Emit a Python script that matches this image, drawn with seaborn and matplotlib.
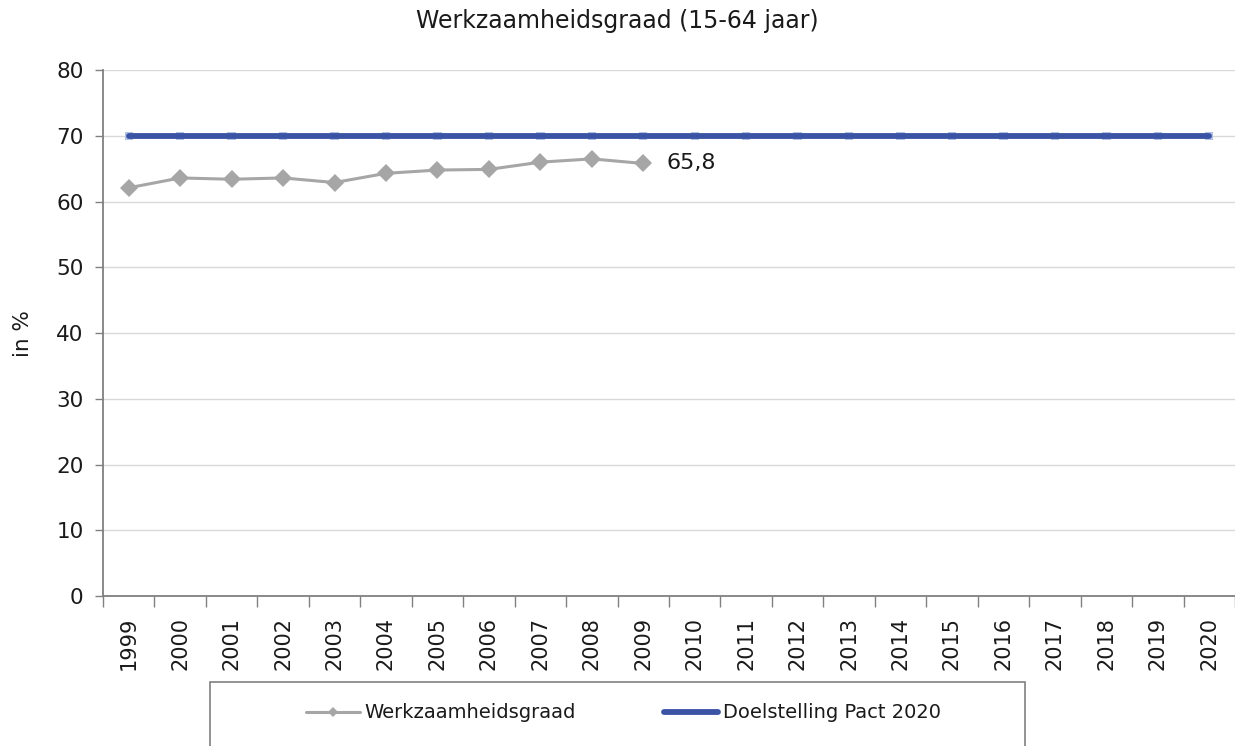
import matplotlib
matplotlib.use("Agg")
import matplotlib.pyplot as plt
from matplotlib.patches import Rectangle
from matplotlib.ticker import FixedLocator
import seaborn as sns
import pandas as pd

# Employment rate (15-64) and the Pact 2020 target
years_obs = [1999, 2000, 2001, 2002, 2003, 2004, 2005, 2006, 2007, 2008, 2009]
rate_obs = [62.1, 63.6, 63.4, 63.6, 62.9, 64.3, 64.8, 64.9, 66.0, 66.5, 65.8]
years_target = list(range(1999, 2021))
target = [70.0] * len(years_target)
title = "Werkzaamheidsgraad (15-64 jaar)"
y_label = "in %"
series_names = ["Werkzaamheidsgraad", "Doelstelling Pact 2020"]
y_ticks = [0, 10, 20, 30, 40, 50, 60, 70, 80]

gray = "#A6A6A6"
blue = "#3A53A4"
text_col = "#1a1a1a"

sns.set_theme(style="white")
plt.rcParams["font.family"] = ["DejaVu Sans"]

fig = plt.figure(figsize=(12.35, 7.46), dpi=100)
ax = fig.add_axes([0.0834, 0.201, 0.9166, 0.705])

df_obs = pd.DataFrame({"year": years_obs, "value": rate_obs})
df_tgt = pd.DataFrame({"year": years_target, "value": target})

# faint square markers sitting underneath the target line
sns.scatterplot(data=df_tgt, x="year", y="value", ax=ax, marker="s", s=36,
                color="#B3C0E6", edgecolor="none", legend=False, zorder=2)
sns.lineplot(data=df_tgt, x="year", y="value", ax=ax, color=blue, linewidth=4.2,
             solid_capstyle="round", label=series_names[1], zorder=3)
sns.lineplot(data=df_obs, x="year", y="value", ax=ax, color=gray, linewidth=2.2,
             marker="D", markersize=9.5, markerfacecolor=gray,
             markeredgewidth=0, label=series_names[0], zorder=4)

# value label on last observation
ax.annotate(f"{rate_obs[-1]:.1f}".replace(".", ","), (years_obs[-1], rate_obs[-1]),
            xytext=(17, 0), textcoords="offset points", ha="left", va="center",
            fontsize=16, color=text_col)

ax.set_xlim(years_target[0] - 0.5, years_target[-1] + 0.5)
ax.set_ylim(0, 80)
ax.set_yticks(y_ticks)
ax.set_xticks(years_target)
ax.set_xticklabels([str(y) for y in years_target], rotation=90, fontsize=15)
ax.xaxis.set_minor_locator(FixedLocator([y - 0.5 for y in years_target] + [years_target[-1] + 0.5]))
ax.tick_params(axis="x", which="major", length=0, pad=15, labelcolor=text_col)
ax.tick_params(axis="x", which="minor", length=8, width=1, color="#808080", bottom=True)
ax.tick_params(axis="y", which="major", length=6, width=1, color="#808080", labelsize=15.5,
               pad=8, left=True, labelcolor=text_col)

ax.grid(axis="y", color="#D9D9D9", linewidth=1)
ax.grid(axis="x", visible=False)
for s in ["top", "right"]:
    ax.spines[s].set_visible(False)
for s in ["left", "bottom"]:
    ax.spines[s].set_color("#808080")
    ax.spines[s].set_linewidth(1.3)

ax.set_xlabel("")
ax.set_ylabel(y_label, fontsize=15.5, color=text_col)
ax.yaxis.set_label_coords(-0.062, 0.5)
fig.text(0.5, 0.972, title, ha="center", va="center", fontsize=17, color=text_col)

# legend: frame drawn separately, running off the bottom edge
handles, labels = ax.get_legend_handles_labels()
order = [labels.index(n) for n in series_names]
leg = ax.legend([handles[i] for i in order], [labels[i] for i in order],
                loc="center left", bbox_to_anchor=(288 / 1235, 1 - 713 / 746),
                bbox_transform=fig.transFigure, ncol=2, frameon=False, fontsize=14,
                handlelength=2.8, handletextpad=0.25, columnspacing=4.5, markerscale=0.55)
for txt in leg.get_texts():
    txt.set_color(text_col)
fig.patches.append(Rectangle((210 / 1235, -0.05), (1025 - 210) / 1235, 0.05 + (1 - 682 / 746),
                             transform=fig.transFigure, fill=False, edgecolor="#808080",
                             linewidth=1.2))

fig.savefig("out.png", dpi=100)
